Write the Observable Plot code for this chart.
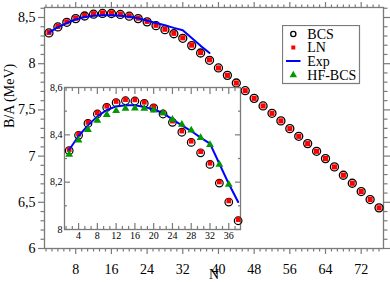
<!DOCTYPE html>
<html><head><meta charset="utf-8">
<script src="https://cdn.jsdelivr.net/npm/d3@7"></script>
<script src="https://cdn.jsdelivr.net/npm/@observablehq/plot@0.6"></script>
<style>
body{margin:0;background:#fff;}
#wrap{position:relative;width:390px;height:282px;font-family:'Liberation Serif','Times New Roman',serif;}
#wrap svg, #wrap svg text{font-family:'Liberation Serif','Times New Roman',serif !important;}
#main{position:absolute;left:0;top:0;}
#inset{position:absolute;left:44px;top:77px;}
#legend{position:absolute;left:282px;top:25px;}
</style></head>
<body><div id="wrap"><div id="main"></div><div id="inset"></div><div id="legend"></div></div>
<script>
// ---- data ----
const N_all = [2,4,6,8,10,12,14,16,18,20,22,24,26,28,30,32,34,36,38,40,42,44,46,48,50,52,54,56,58,60,62,64,66,68,70,72,74,76];
const BCS = [8.333,8.398,8.448,8.488,8.516,8.536,8.544,8.543,8.533,8.514,8.488,8.453,8.411,8.368,8.324,8.275,8.196,8.116,8.037,7.954,7.874,7.791,7.708,7.625,7.543,7.463,7.381,7.297,7.214,7.135,7.052,6.973,6.883,6.793,6.706,6.616,6.530,6.440];
const LN  = [8.338,8.403,8.453,8.493,8.521,8.541,8.549,8.548,8.538,8.519,8.493,8.458,8.416,8.373,8.329,8.280,8.201,8.121,8.042,7.954,7.874,7.791,7.708,7.625,7.543,7.463,7.381,7.297,7.214,7.135,7.052,6.973,6.883,6.793,6.706,6.616,6.530,6.440];
const N_exp = [2,4,6,8,10,12,14,16,18,20,22,24,26,28,30,32,34,36,38];
const EXP = [8.337,8.395,8.440,8.478,8.505,8.520,8.525,8.525,8.518,8.507,8.492,8.465,8.440,8.416,8.388,8.363,8.278,8.193,8.116];
const N_hf = [2,4,6,8,10,12,14,16,18,20,22,24,26,28,30,32,34,36];
const HFBCS = [8.317,8.377,8.422,8.461,8.485,8.502,8.511,8.512,8.511,8.504,8.492,8.465,8.444,8.419,8.388,8.358,8.275,8.190];
const seriesNames = ["BCS","LN","Exp","HF-BCS"];
const mainXTicks = [8,16,24,32,40,48,56,64,72];
const mainYTicks = [6,6.5,7,7.5,8,8.5];
const insetXTicks = [4,8,12,16,20,24,28,32,36];
const insetYTicks = [8,8.2,8.4,8.6];

// ---- tables ----
const pts = N_all.map((n,i)=>({N:n,BCS:BCS[i],LN:LN[i]}));
const exp = N_exp.map((n,i)=>({N:n,B:EXP[i]}));
const hf = N_hf.map((n,i)=>({N:n,B:HFBCS[i]}));

const gray = "#7a7a7a";
const serif = "'Liberation Serif','Times New Roman',serif";
const fmt = d => String(d).replace(".", ",");
const mainXMinor = d3.range(1,58).filter(k=>k%6!==0).map(k=>k*4/3);
const mainYMinor = d3.range(60,87).filter(k=>k%5!==0).map(k=>k/10);
const insetXMinor = d3.range(1,29).filter(k=>k%3!==0).map(k=>k*4/3).filter(v=>v<38.5);
const insetYMinor = [8.1,8.3,8.5];
const font = {fontFamily:serif, background:"transparent", overflow:"visible", color:"black"};

const main = Plot.plot({
  width:390, height:282,
  marginLeft:44, marginRight:7, marginTop:7, marginBottom:34,
  style:{...font, fontSize:"14px"},
  x:{domain:[1,77], label:null},
  y:{domain:[6,8.6082], label:null},
  marks:[
    Plot.frame({stroke:gray, strokeWidth:1.3}),
    Plot.axisX(mainXTicks,{anchor:"bottom",tickSize:6,fill:"none",stroke:gray,strokeWidth:1.2,label:null}),
    Plot.axisX(mainXMinor,{anchor:"bottom",tickSize:3.5,fill:"none",stroke:gray,strokeWidth:1.2,label:null}),
    Plot.axisX(mainXTicks,{anchor:"bottom",tickSize:0,tickPadding:16,tickFormat:fmt,fontSize:14,label:null}),
    Plot.axisX(mainXTicks,{anchor:"top",tickSize:6,fill:"none",stroke:gray,strokeWidth:1.2,label:null}),
    Plot.axisX(mainXMinor,{anchor:"top",tickSize:3.5,fill:"none",stroke:gray,strokeWidth:1.2,label:null}),
    Plot.axisY(mainYTicks,{anchor:"left",tickSize:6,fill:"none",stroke:gray,strokeWidth:1.2,label:null}),
    Plot.axisY(mainYMinor,{anchor:"left",tickSize:3.5,fill:"none",stroke:gray,strokeWidth:1.2,label:null}),
    Plot.axisY(mainYTicks,{anchor:"left",tickSize:0,tickPadding:9,tickFormat:fmt,fontSize:14,label:null}),
    Plot.axisY(mainYTicks,{anchor:"right",tickSize:6,fill:"none",stroke:gray,strokeWidth:1.2,label:null}),
    Plot.axisY(mainYMinor,{anchor:"right",tickSize:3.5,fill:"none",stroke:gray,strokeWidth:1.2,label:null}),
    Plot.dot(pts,{x:"N",y:"BCS",r:4,stroke:"black",strokeWidth:1.3,fill:"none"}),
    Plot.dot(pts,{x:"N",y:"LN",r:2.9,symbol:"square",fill:"#ff0000"}),
    Plot.line(exp,{x:"N",y:"B",stroke:"#0000ff",strokeWidth:2}),
    Plot.text(["B/A (MeV)"],{text:d=>d,frameAnchor:"left",dx:-35,rotate:-90,fontSize:14}),
    Plot.text(["N"],{text:d=>d,frameAnchor:"bottom",dy:30,fontSize:14})
  ]
});
document.getElementById("main").appendChild(main);

const inPts = pts.filter(d=>d.N<=38);
const inset = Plot.plot({
  width:206, height:165,
  marginLeft:20, marginRight:10, marginTop:10, marginBottom:13,
  style:{...font, fontSize:"10px"},
  x:{domain:[1,38.5], label:null},
  y:{domain:[8,8.6], label:null},
  marks:[
    Plot.frame({stroke:gray, strokeWidth:1.3}),
    Plot.axisX(insetXTicks,{anchor:"bottom",tickSize:6,dy:-6,fill:"none",stroke:gray,strokeWidth:1.2,label:null}),
    Plot.axisX(insetXMinor,{anchor:"bottom",tickSize:3,dy:-3,fill:"none",stroke:gray,strokeWidth:1.2,label:null}),
    Plot.axisX(insetXTicks,{anchor:"bottom",tickSize:0,tickPadding:2,tickFormat:fmt,fontSize:10,label:null}),
    Plot.axisX(insetXTicks,{anchor:"top",tickSize:6,dy:6,fill:"none",stroke:gray,strokeWidth:1.2,label:null}),
    Plot.axisX(insetXMinor,{anchor:"top",tickSize:3,dy:3,fill:"none",stroke:gray,strokeWidth:1.2,label:null}),
    Plot.axisY(insetYTicks,{anchor:"left",tickSize:6,dx:6,fill:"none",stroke:gray,strokeWidth:1.2,label:null}),
    Plot.axisY(insetYMinor,{anchor:"left",tickSize:3,dx:3,fill:"none",stroke:gray,strokeWidth:1.2,label:null}),
    Plot.axisY(insetYTicks,{anchor:"left",tickSize:0,tickPadding:2,tickFormat:fmt,fontSize:10,label:null}),
    Plot.axisY(insetYTicks,{anchor:"right",tickSize:6,dx:-6,fill:"none",stroke:gray,strokeWidth:1.2,label:null}),
    Plot.axisY(insetYMinor,{anchor:"right",tickSize:3,dx:-3,fill:"none",stroke:gray,strokeWidth:1.2,label:null}),
    Plot.dot(inPts,{x:"N",y:"BCS",r:3.8,stroke:"black",strokeWidth:1.2,fill:"none"}),
    Plot.dot(inPts,{x:"N",y:"LN",r:2.7,symbol:"square",fill:"#ff0000"}),
    Plot.line(exp,{x:"N",y:"B",stroke:"#0000ff",strokeWidth:2}),
    Plot.dot(hf,{x:"N",y:"B",r:2.9,symbol:"triangle",fill:"#009900"})
  ]
});
document.getElementById("inset").appendChild(inset);

// ---- legend ----
const lg = d3.select("#legend").append("svg").attr("width",79).attr("height",60)
  .style("font-family",serif).style("font-size","14px");
lg.append("rect").attr("x",0.5).attr("y",0.5).attr("width",77).attr("height",58)
  .attr("fill","white").attr("stroke",gray).attr("stroke-width",1.2);
const rowsY = [9,22.5,36,50];
seriesNames.forEach((s,i)=>{
  const y = rowsY[i], g = lg.append("g");
  if(s==="BCS") g.append("circle").attr("cx",11.3).attr("cy",y).attr("r",2.6).attr("fill","none").attr("stroke","black").attr("stroke-width",1.3);
  if(s==="LN") g.append("rect").attr("x",9.3).attr("y",y-2).attr("width",4).attr("height",4).attr("fill","#ff0000");
  if(s==="Exp") g.append("line").attr("x1",4).attr("x2",18.5).attr("y1",y).attr("y2",y).attr("stroke","#0000ff").attr("stroke-width",2);
  if(s==="HF-BCS") g.append("path").attr("d",d3.symbol(d3.symbolTriangle,24)()).attr("transform",`translate(11.3,${y})`).attr("fill","#009900");
  g.append("text").attr("x",25.3).attr("y",y).attr("dy","0.35em").text(s);
});
</script></body></html>
